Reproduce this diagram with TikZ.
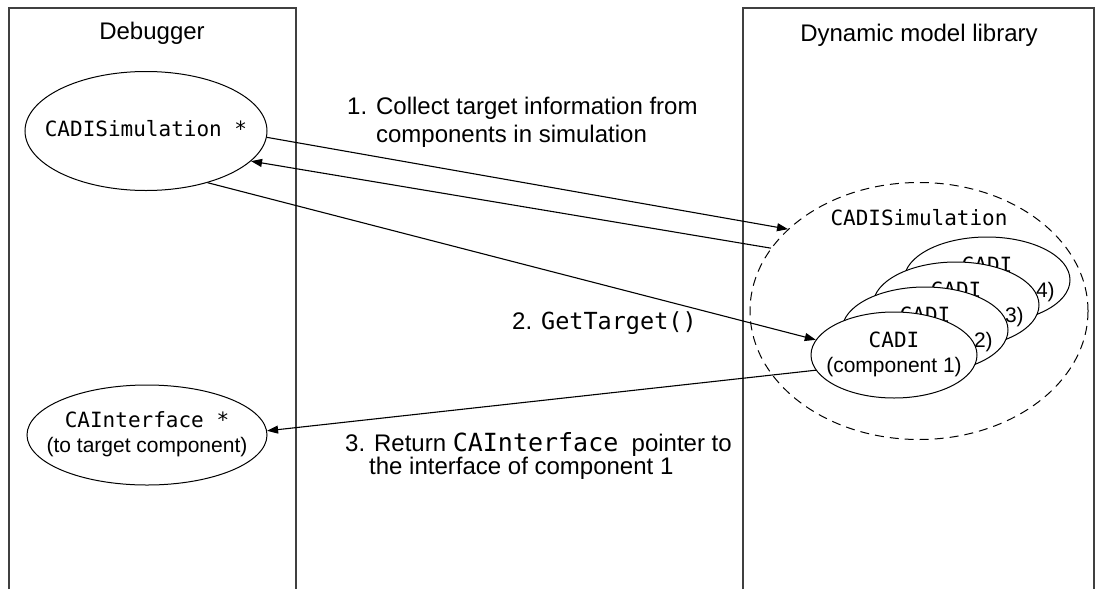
\documentclass[tikz,border=0pt]{standalone}
\usepackage{fontspec}
\setmainfont{Liberation Sans}
\setmonofont{DejaVu Sans Mono}
\usetikzlibrary{arrows.meta,shapes.geometric}

% text that does not widen its ellipse
\newcommand{\ovaltext}[1]{\makebox[0pt]{\begin{tabular}{@{}c@{}}#1\end{tabular}}}

\begin{document}
\begin{tikzpicture}[x=1pt,y=-1pt,>={Triangle[length=11pt,width=8pt]},
	lane/.style={draw=black!75,line width=1.4pt},
	oval/.style={draw,ellipse,line width=1pt,inner sep=0pt,fill=white},
	flow/.style={line width=1.1pt},
	big/.style={font=\fontsize{24}{28}\selectfont},
	small/.style={font=\fontsize{21}{25}\selectfont}]

	\useasboundingbox (0,0) rectangle (1099,589);

	% the two lanes
	\draw[lane] (9,589) -- (9,8) -- (296,8) -- (296,589);
	\draw[lane] (743,589) -- (743,8) -- (1094,8) -- (1094,589);
	\node[big] (dbg) at (152,33) {Debugger};
	\node[big] (lib) at (919,35) {Dynamic model library};

	% debugger side
	\node[oval,small,minimum width=242pt,minimum height=119pt] (simptr) at (146,131) {\ovaltext{\texttt{CADISimulation *}}};
	\node[oval,small,minimum width=240pt,minimum height=100pt] (ifptr) at (147,435) {\ovaltext{\texttt{CAInterface *}\\(to target component)}};

	% library side
	\node[oval,line width=1pt,dash pattern=on 9pt off 6pt,minimum width=338pt,minimum height=257pt] (sim) at (919,311) {};
	\node[small] (simlbl) at (919,218) {\texttt{CADISimulation}};
	\foreach \i in {4,3,2,1}
		\node[oval,small,minimum width=166pt,minimum height=86pt] (cadi\i) at ({894+31*(\i-1)},{355-25*(\i-1)}) {\ovaltext{\texttt{CADI}\\(component \i)}};

	% steps
	\node[big,align=left,anchor=west,inner sep=0pt] (step1) at (347,122)
		{1. Collect target information from\\\phantom{1. }components in simulation};
	\node[big,anchor=west,inner sep=0pt] (step2) at (512,323)
		{2. {\fontsize{23.5}{28}\selectfont\texttt{GetTarget()}}};
	\node[font=\fontsize{24}{23}\selectfont,align=left,anchor=west,inner sep=0pt] (step3) at (345,456)
		{3. Return {\fontsize{25}{23}\selectfont\texttt{CAInterface}}\ \ pointer to\\\phantom{3.\,}the interface of component 1};

	\draw[flow,->] (simptr.-3) -- (sim.148);
	\draw[flow,->] (sim.157) -- (simptr.-16);
	\draw[flow,->] (simptr.-40) -- (cadi1.169);
	\draw[flow,->] (cadi1.191) -- (ifptr.2);

\end{tikzpicture}
\end{document}
